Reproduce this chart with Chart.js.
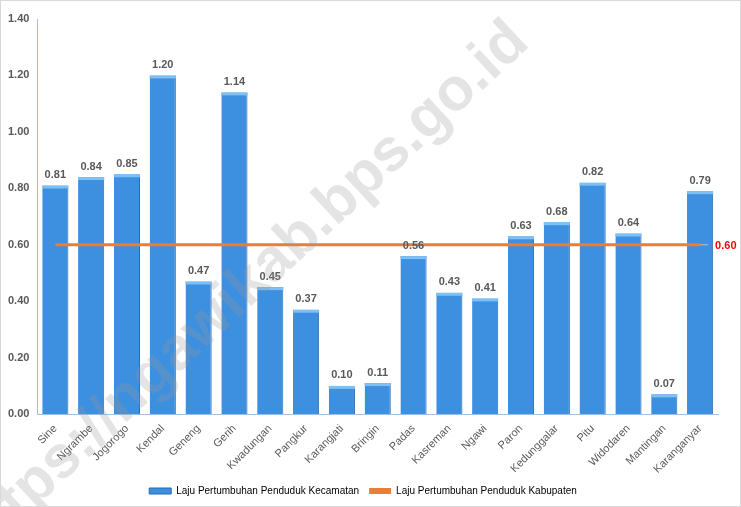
<!DOCTYPE html>
<html>
<head>
<meta charset="utf-8">
<script src="https://cdn.jsdelivr.net/npm/chart.js@4.4.1/dist/chart.umd.min.js"></script>
<style>
body{margin:0;background:#fff;}
#wrap{position:relative;width:739px;height:505px;border:1px solid #d9d9d9;}
</style>
</head>
<body>
<div id="wrap"><canvas id="lajuChart" width="739" height="505"></canvas></div>
<script>
// Laju pertumbuhan penduduk per kecamatan

const kecamatan = ['Sine','Ngrambe','Jogorogo','Kendal','Geneng','Gerih','Kwadungan','Pangkur','Karangjati','Bringin','Padas','Kasreman','Ngawi','Paron','Kedunggalar','Pitu','Widodaren','Mantingan','Karanganyar'];
const lajuKecamatan = [0.81,0.84,0.85,1.20,0.47,1.14,0.45,0.37,0.10,0.11,0.56,0.43,0.41,0.63,0.68,0.82,0.64,0.07,0.79];
const lajuKabupaten = [0.60,0.60,0.60,0.60,0.60,0.60,0.60,0.60,0.60,0.60,0.60,0.60,0.60,0.60,0.60,0.60,0.60,0.60,0.60];
const yTicks = [0,0.2,0.4,0.6,0.8,1.0,1.2,1.4];

const fontName = "'Liberation Sans', Arial, sans-serif";

function barFill(ctx){
    const el = ctx.element;
    const c = ctx.chart.ctx;
    if(!el || !el.x) return '#3d8fe0';
    const w = el.width || 26;
    const g = c.createLinearGradient(el.x - w/2, 0, el.x + w/2, 0);
    g.addColorStop(0,'#3a8ad8');
    g.addColorStop(0.5,'#4a9de9');
    g.addColorStop(0.85,'#3a88d6');
    g.addColorStop(1,'#2767a8');
    return g;
}

const labelPlugin = {
    id:'labels',
    afterDatasetsDraw(chart){
        const c = chart.ctx;
        c.save();
        // light highlight on top of each bar
        chart.getDatasetMeta(0).data.forEach(bar=>{
            c.fillStyle = '#7cc0f5';
            c.fillRect(bar.x - bar.width/2, bar.y, bar.width, 3);
        });
        c.font = 'bold 11px ' + fontName;
        c.fillStyle = '#595959';
        c.textAlign = 'center';
        c.textBaseline = 'bottom';
        chart.getDatasetMeta(0).data.forEach((bar,i)=>{
            c.fillText(lajuKecamatan[i].toFixed(2), bar.x, bar.y - 5);
        });
        // kabupaten label at the right end
        const pts = chart.getDatasetMeta(1).data;
        const last = pts[pts.length-1];
        c.strokeStyle = '#bfbfbf';
        c.lineWidth = 1;
        c.beginPath();
        c.moveTo(last.x, last.y);
        c.lineTo(last.x + 8, last.y);
        c.stroke();
        c.fillStyle = '#ff0000';
        c.textAlign = 'left';
        c.textBaseline = 'middle';
        c.fillText(lajuKabupaten[lajuKabupaten.length-1].toFixed(2), last.x + 15, last.y + 1);
        c.restore();
    },
    afterDraw(chart){
        const c = chart.ctx;
        c.save();
        c.translate(242, 290);
        c.rotate(-43 * Math.PI / 180);
        c.font = 'bold 60px ' + fontName;
        c.fillStyle = 'rgba(150,150,150,0.26)';
        c.textAlign = 'center';
        c.textBaseline = 'middle';
        c.fillText('https://ngawikab.bps.go.id', 0, 0);
        c.restore();
    }
};

new Chart(
document.getElementById('lajuChart'),
{
    type:'bar',
    data:{
        labels:kecamatan,
        datasets:[{
            type:'bar',
            label:'Laju Pertumbuhan Penduduk Kecamatan',
            data:lajuKecamatan,
            backgroundColor:barFill,
            borderColor:'#2a6aab',
            borderWidth:{top:0,left:0,right:1,bottom:0},
            categoryPercentage:1,
            barPercentage:0.73,
            order:2
        },{
            type:'line',
            label:'Laju Pertumbuhan Penduduk Kabupaten',
            data:lajuKabupaten,
            borderColor:'#ed7d31',
            backgroundColor:'#ed7d31',
            borderWidth:3,
            pointRadius:0,
            order:1
        }]
    },
    options:{
        responsive:false,
        animation:false,
        devicePixelRatio:1,
        layout:{padding:{left:7,right:22,top:18,bottom:0}},
        plugins:{
            tooltip:{enabled:false},
            legend:{
                position:'bottom',
                labels:{
                    font:{family:fontName,size:10},
                    color:'#595959',
                    boxWidth:22,
                    boxHeight:6,
                    padding:10,
                    generateLabels(chart){
                        return [{
                            text:'Laju Pertumbuhan Penduduk Kecamatan',
                            fillStyle:'#3d8fe0',
                            strokeStyle:'#2a6aab',
                            lineWidth:1,
                            datasetIndex:0
                        },{
                            text:'Laju Pertumbuhan Penduduk Kabupaten',
                            fillStyle:'#ed7d31',
                            strokeStyle:'#ed7d31',
                            lineWidth:0,
                            datasetIndex:1
                        }];
                    }
                }
            }
        },
        scales:{
            x:{
                grid:{display:false},
                border:{color:'#9dc3e6',width:1},
                ticks:{
                    color:'#595959',
                    font:{family:fontName,size:11},
                    maxRotation:45,
                    minRotation:45,
                    autoSkip:false,
                    padding:0
                }
            },
            y:{
                min:0,
                max:1.4,
                afterBuildTicks(axis){
                    axis.ticks = yTicks.map(v=>({value:v}));
                },
                grid:{display:false},
                border:{color:'#9dc3e6',width:1},
                ticks:{
                    color:'#595959',
                    font:{family:fontName,size:11,weight:'bold'},
                    padding:0,
                    callback:v=>Number(v).toFixed(2)
                }
            }
        }
    },
    plugins:[labelPlugin]
});
</script>
</body>
</html>
